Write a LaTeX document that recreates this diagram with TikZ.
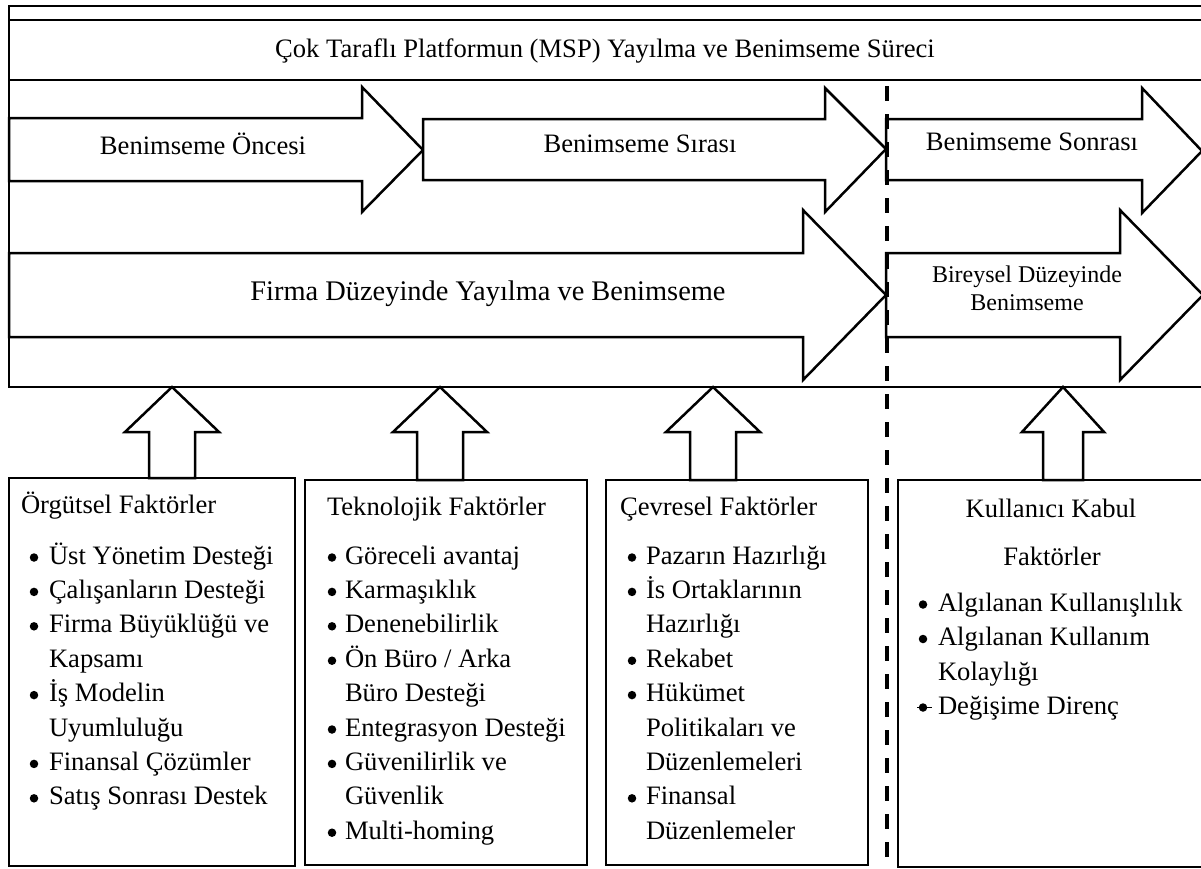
\documentclass[tikz,border=0pt]{standalone}
\usepackage{fontspec}
\setmainfont{Liberation Serif}
\tikzset{
  stroke/.style={line width=2.5pt, line join=miter},
  blockarrow/.style={stroke, draw=black, fill=white},
  panel/.style={stroke, draw=black, rectangle, outer sep=0pt, inner sep=0pt, anchor=north west},
  lbl/.style={inner sep=0pt, outer sep=0pt, font=\fontsize{26.6}{32}\selectfont},
  biglbl/.style={inner sep=0pt, outer sep=0pt, font=\fontsize{28.4}{34}\selectfont},
  smalllbl/.style={inner sep=0pt, outer sep=0pt, font=\fontsize{24}{28}\selectfont},
  dot/.style={circle, fill=black, draw=none, inner sep=0pt, minimum size=8.5pt},
  divider/.style={line width=4pt, dash pattern=on 15pt off 13pt},
}
\begin{document}
\begin{tikzpicture}[x=1pt,y=-1pt]
\useasboundingbox (0,0) rectangle (1201,868);
\clip (0,0) rectangle (1201,868);
\fill[white] (0,0) rectangle (1201,868);

% outer frame of the process
\node[panel, minimum width=1230pt, minimum height=381pt] (msp) at (9,6) {};
\draw[stroke] (9,20) -- (1220,20);
\draw[stroke] (9,80) -- (1220,80);
\node[lbl, anchor=base] (title) at (605,57) {Çok Taraflı Platformun (MSP) Yayılma ve Benimseme Süreci};

% phase arrows
\draw[blockarrow] (9,118) -- (362,118) -- (362,87) -- (423,150) -- (362,212) -- (362,181) -- (9,181) -- cycle;
\draw[blockarrow] (423,119) -- (825,119) -- (825,88) -- (886,149) -- (825,212) -- (825,180) -- (423,180) -- cycle;
\draw[blockarrow] (886,119) -- (1142,119) -- (1142,88) -- (1202,151) -- (1142,213) -- (1142,180) -- (886,180) -- cycle;
\node[lbl, anchor=base] (pre)  at (203,154) {Benimseme Öncesi};
\node[lbl, anchor=base] (dur)  at (640,152) {Benimseme Sırası};
\node[lbl, anchor=base] (post) at (1032,150) {Benimseme Sonrası};

% level arrows
\draw[blockarrow] (9,253) -- (803,253) -- (803,210) -- (886,295) -- (803,380) -- (803,337) -- (9,337) -- cycle;
\draw[blockarrow] (886,253) -- (1120,253) -- (1120,210) -- (1203,295) -- (1120,380) -- (1120,337) -- (886,337) -- cycle;
\node[biglbl, anchor=base] (firm) at (488,300) {Firma Düzeyinde Yayılma ve Benimseme};
\node[smalllbl, anchor=base] (ind1) at (1027,282) {Bireysel Düzeyinde};
\node[smalllbl, anchor=base] (ind2) at (1027,310) {Benimseme};

% factor boxes
\node[panel, minimum width=286pt, minimum height=388pt] (org) at (9,478) {};
\node[panel, minimum width=282pt, minimum height=385pt] (tek) at (305,480) {};
\node[panel, minimum width=262pt, minimum height=385pt] (cev) at (606,480) {};
\node[panel, minimum width=330pt, minimum height=387pt] (kul) at (898,480) {};

% upward arrows from boxes into the frame
\foreach \x/\hw/\sw/\b in {172/47/23/org, 440/47/23/tek, 713/47/23/cev, 1063/41/20/kul}
  \draw[blockarrow] ({\x-\sw},0 |- \b.north) -- ({\x-\sw},432) -- ({\x-\hw},432)
    -- (\x,0 |- msp.south) -- ({\x+\hw},432) -- ({\x+\sw},432) -- ({\x+\sw},0 |- \b.north) -- cycle;

% dashed divider between firm and individual level
\coordinate (dtop) at (887,86);
\coordinate (dbot) at (887,870);
\draw[divider] (dtop) -- (dbot);

% box contents
\node[lbl, anchor=base west] (orgh) at (21,513) {Örgütsel Faktörler};
\foreach [count=\i] \y/\m/\t in {564/1/{Üst Yönetim Desteği}, 598.4/1/{Çalışanların Desteği},
    632.8/1/{Firma Büyüklüğü ve}, 667.2/0/{Kapsamı}, 701.6/1/{İş Modelin}, 736/0/{Uyumluluğu},
    770.4/1/{Finansal Çözümler}, 804.8/1/{Satış Sonrası Destek}}{
  \node[lbl, anchor=base west] (org\i) at (49,\y) {\t};
  \ifnum\m=1 \node[dot] (orgb\i) at (34,{\y-6.5}) {};\fi
}

\node[lbl, anchor=base west] (tekh) at (327,515) {Teknolojik Faktörler};
\foreach [count=\i] \y/\m/\t in {564/1/{Göreceli avantaj}, 598.4/1/{Karmaşıklık},
    632.8/1/{Denenebilirlik}, 667.2/1/{Ön Büro / Arka}, 701.6/0/{Büro Desteği},
    736/1/{Entegrasyon Desteği}, 770.4/1/{Güvenilirlik ve}, 804.8/0/{Güvenlik}, 839.2/1/{Multi-homing}}{
  \node[lbl, anchor=base west] (tek\i) at (345,\y) {\t};
  \ifnum\m=1 \node[dot] (tekb\i) at (332,{\y-6.5}) {};\fi
}

\node[lbl, anchor=base west] (cevh) at (620,515) {Çevresel Faktörler};
\foreach [count=\i] \y/\m/\t in {564/1/{Pazarın Hazırlığı}, 598.4/1/{İs Ortaklarının},
    632.8/0/{Hazırlığı}, 667.2/1/{Rekabet}, 701.6/1/{Hükümet}, 736/0/{Politikaları ve},
    770.4/0/{Düzenlemeleri}, 804.8/1/{Finansal}, 839.2/0/{Düzenlemeler}}{
  \node[lbl, anchor=base west] (cev\i) at (646,\y) {\t};
  \ifnum\m=1 \node[dot] (cevb\i) at (632,{\y-6.5}) {};\fi
}

\node[lbl, anchor=base] (kulh1) at (1051,517) {Kullanıcı Kabul};
\node[lbl, anchor=base] (kulh2) at (1052,565) {Faktörler};
\foreach [count=\i] \y/\m/\t in {611/1/{Algılanan Kullanışlılık}, 645.5/1/{Algılanan Kullanım},
    680/0/{Kolaylığı}, 714/1/{Değişime Direnç}}{
  \node[lbl, anchor=base west] (kul\i) at (938,\y) {\t};
  \ifnum\m=1 \node[dot] (kulb\i) at (923,{\y-6.5}) {};\fi
}
\draw[line width=1.6pt] ([xshift=-6pt]kulb4.center) -- ([xshift=9pt]kulb4.center);
\end{tikzpicture}
\end{document}
